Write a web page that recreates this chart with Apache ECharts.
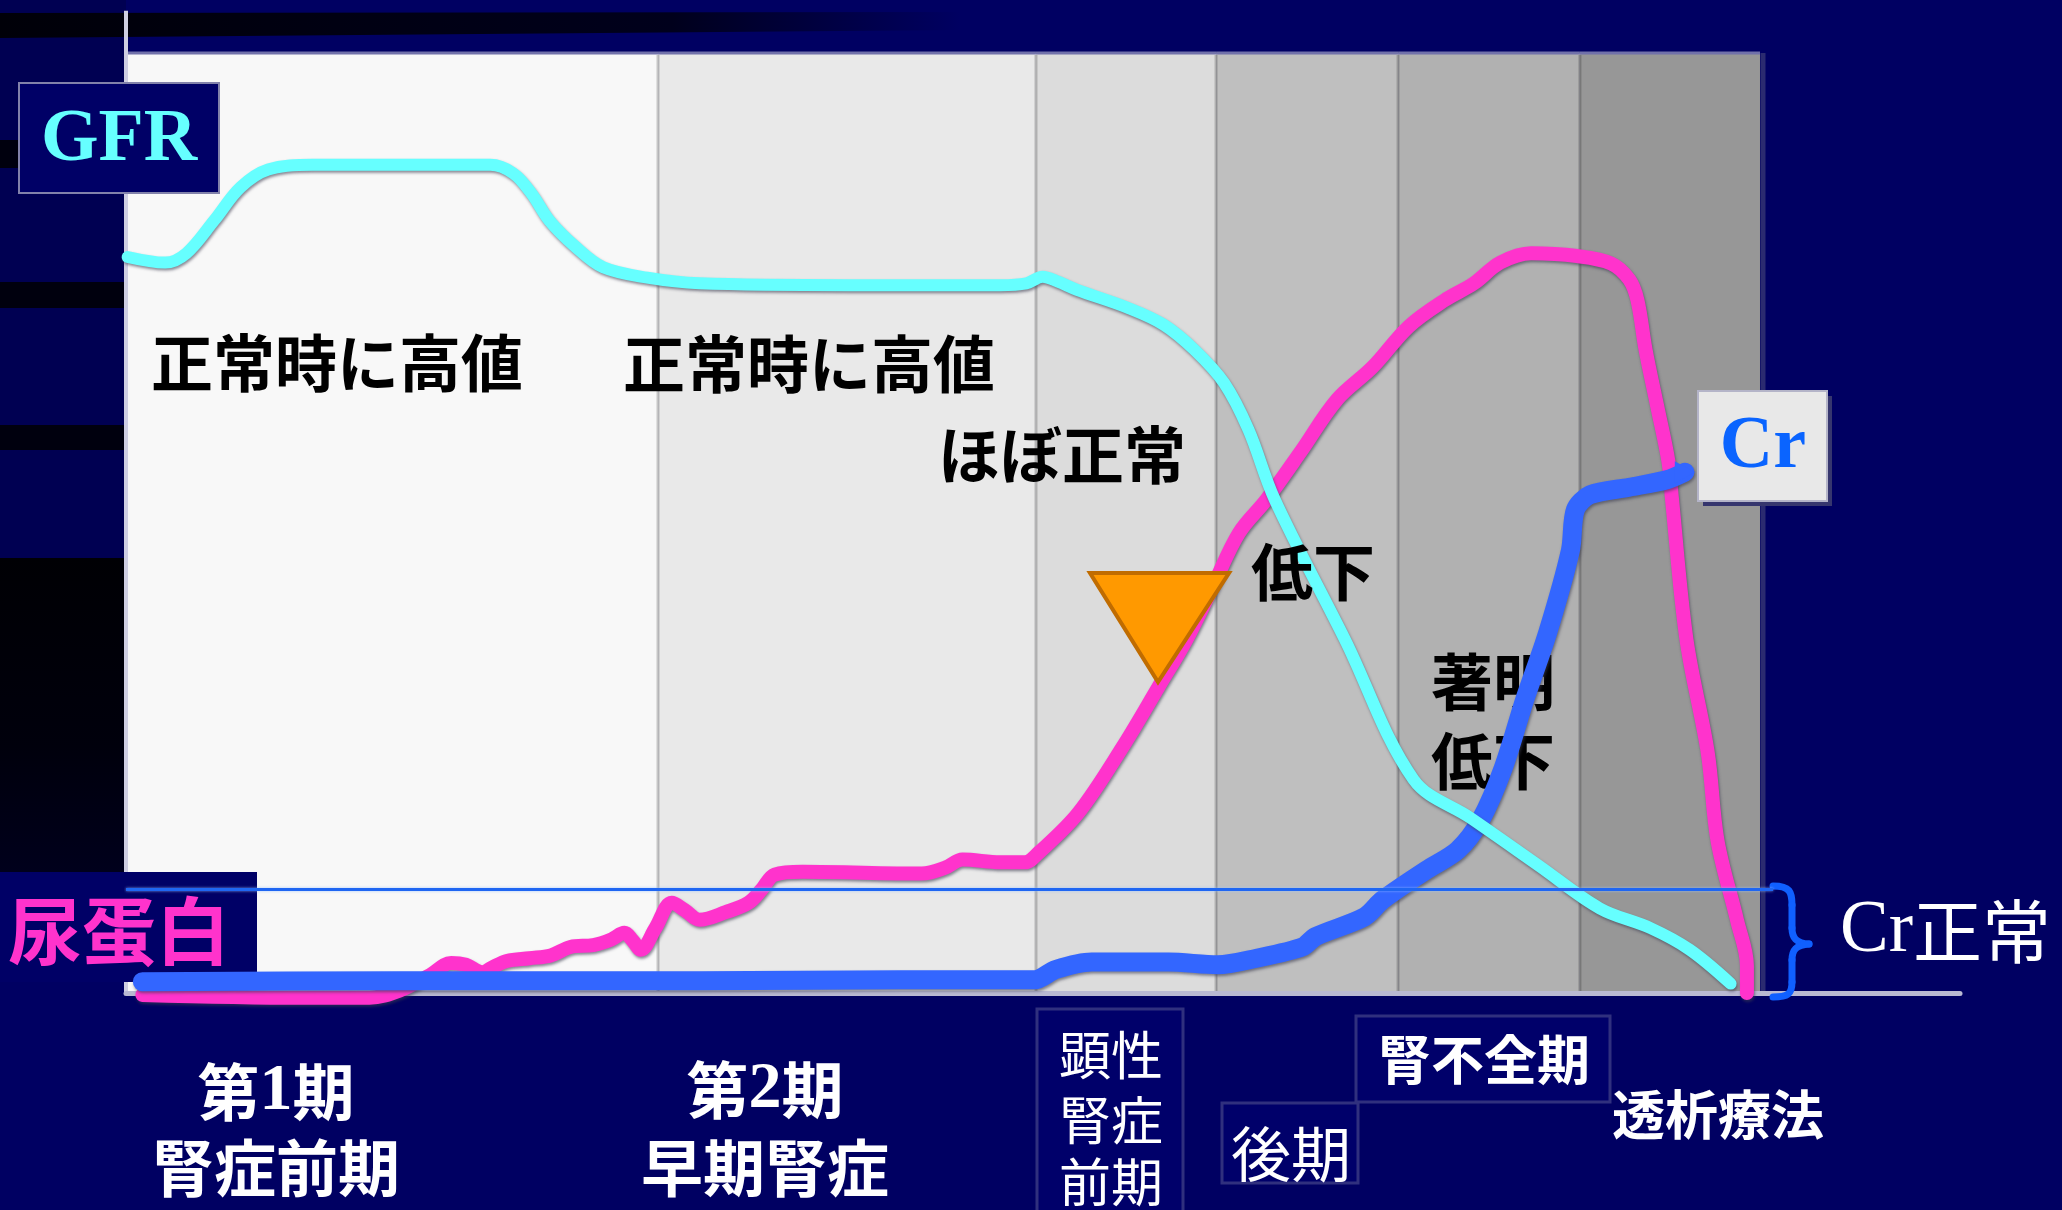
<!DOCTYPE html>
<html>
<head>
<meta charset="utf-8">
<title>糖尿病性腎症の病期と GFR・尿蛋白・Cr の推移</title>
<script src="https://cdn.jsdelivr.net/npm/echarts@6/dist/echarts.min.js"></script>
<style>
  html, body { margin: 0; padding: 0; background: #000062; }
  #chart { width: 2062px; height: 1210px; }
</style>
</head>
<body>
<div id="chart"></div>
<script>
// Progression axis: 0 = start of stage 1, 100 = end of the dialysis stage.
// Vertical axis: 0 = baseline, 100 = top of the panel (relative level).
const stageEdges = [0, 32.56, 55.69, 66.71, 77.85, 88.98, 100];
const stageShades = ['#f8f8f8', '#e9e9e9', '#dcdcdc', '#bfbfbf', '#b1b1b1', '#979797'];

// GFR
const gfr = [
  [0.1, 78.3], [2.4, 77.7], [3.7, 78.7], [5.4, 82.2], [7.0, 85.7], [8.7, 87.6],
  [11.4, 88.1], [16.9, 88.1], [22.3, 88.1], [23.7, 87.2], [24.8, 85.1], [25.9, 82.2],
  [27.5, 79.4], [29.2, 77.2], [31.9, 76.1], [35.1, 75.5], [44.3, 75.3], [53.5, 75.3],
  [55.1, 75.5], [56.1, 76.2], [57.0, 75.7], [58.2, 74.8], [61.3, 72.9], [63.5, 71.1],
  [65.4, 68.4], [67.2, 64.9], [68.7, 59.9], [70.3, 52.5], [74.6, 37.6], [78.8, 22.7],
  [82.3, 18.6], [86.5, 13.5], [90.2, 9.0], [93.3, 6.9], [95.7, 4.6], [98.2, 1.0]
];

// 尿蛋白 (urinary protein)
const urineProtein = [
  [1.0, -0.2], [10.7, -0.5], [14.9, -0.5], [16.8, 0.3], [18.6, 1.9], [19.9, 3.2],
  [20.8, 3.0], [21.8, 2.2], [22.4, 2.7], [23.3, 3.4], [24.7, 3.7], [26.0, 4.0],
  [27.2, 4.9], [28.6, 5.1], [29.7, 5.7], [30.5, 6.4], [31.0, 5.6], [31.5, 4.6],
  [32.4, 6.9], [33.4, 9.6], [34.2, 8.8], [35.1, 7.8], [36.7, 8.6], [38.1, 9.6],
  [38.9, 11.0], [39.7, 12.6], [41.4, 12.9], [48.7, 12.7], [50.1, 13.3], [51.2, 14.2],
  [53.5, 13.9], [55.0, 13.9], [55.9, 15.0], [58.3, 19.2], [61.0, 26.2], [63.2, 32.6],
  [64.9, 37.6], [66.5, 43.2], [68.1, 48.9], [69.8, 52.5], [71.9, 57.6], [74.1, 63.1],
  [76.3, 66.6], [78.5, 70.9], [80.7, 73.7], [82.5, 75.5], [84.1, 77.7], [86.0, 78.7],
  [88.8, 78.4], [90.9, 77.6], [92.0, 75.9], [92.5, 73.7], [93.0, 68.4], [93.7, 62.5],
  [94.4, 56.5], [94.6, 52.8], [95.5, 37.6], [96.8, 25.6], [97.4, 16.2], [98.6, 7.7],
  [99.2, 2.9], [99.2, 0]
];

// Cr (serum creatinine)
const creatinine = [
  [1.0, 1.2], [16.8, 1.3], [35.1, 1.3], [47.4, 1.4], [55.6, 1.4], [56.9, 2.5],
  [59.1, 3.3], [63.8, 3.3], [66.8, 3.0], [69.2, 3.7], [72.0, 4.9], [72.8, 6.0],
  [75.8, 8.1], [76.9, 9.9], [79.6, 13.1], [81.5, 15.2], [82.9, 18.4], [84.3, 24.0],
  [85.6, 31.2], [87.0, 38.3], [88.4, 47.1], [88.7, 51.4], [89.6, 53.0], [92.0, 53.8],
  [94.3, 54.6], [95.4, 55.4]
];

// Upper limit of the normal Cr range
const crNormalUpper = 11.0;
const crNormalSpan = [0, 100.8];

const JP = '"Noto Sans CJK JP", "Noto Sans", sans-serif';
const SERIF = '"Liberation Serif", "DejaVu Serif", serif';

function curveStyle(color, width) {
  return {
    color: color, width: width, cap: 'round', join: 'round',
    shadowColor: 'rgba(60,60,80,0.6)', shadowBlur: 3, shadowOffsetX: 1, shadowOffsetY: 2
  };
}

function blackLabel(text, x, y, z) {
  return {
    type: 'text', z: z, x: x, y: y,
    style: { text: text, font: 'bold 62px ' + JP, fill: '#000', align: 'center', verticalAlign: 'middle' }
  };
}

function whiteLabel(text, x, y, size, weight) {
  return {
    type: 'text', z: 10, x: x, y: y,
    style: {
      text: text, font: weight + ' ' + size + 'px ' + JP, fill: '#fff',
      align: 'center', verticalAlign: 'middle',
      shadowColor: 'rgba(0,0,0,0.6)', shadowOffsetX: 2, shadowOffsetY: 2
    }
  };
}

function stageNumberLabel(num, x, y) {
  return {
    type: 'text', z: 10, x: x, y: y,
    style: {
      text: '{a|第}{n|' + num + '}{a|期}', align: 'center', verticalAlign: 'middle',
      rich: {
        a: { font: 'bold 62px ' + JP, fill: '#fff' },
        n: { font: 'bold 66px ' + SERIF, fill: '#fff' }
      }
    }
  };
}

function stageBox(x, y, w, h) {
  return {
    type: 'rect', z: 8, shape: { x: x, y: y, width: w, height: h },
    style: { fill: '#00006a', stroke: '#30307e', lineWidth: 3 }
  };
}

const braceStyle = { fill: 'none', stroke: '#1060ff', lineWidth: 7, lineCap: 'round' };
function braceCurve(x1, y1, cx1, cy1, cx2, cy2, x2, y2) {
  return { type: 'bezierCurve', z: 7,
    shape: { x1: x1, y1: y1, cpx1: cx1, cpy1: cy1, cpx2: cx2, cpy2: cy2, x2: x2, y2: y2 },
    style: braceStyle };
}
function braceLine(x1, y1, x2, y2) {
  return { type: 'line', z: 7, shape: { x1: x1, y1: y1, x2: x2, y2: y2 }, style: braceStyle };
}

const dark = '#00000e';
const chart = echarts.init(document.getElementById('chart'));

const option = {
  backgroundColor: '#000062',
  animation: false,
  grid: { left: 126, right: 102, top: 6, bottom: 170, containLabel: false },
  xAxis: {
    type: 'value', min: 0, max: 112.24, z: 2,
    axisLine: { show: true, onZero: true, lineStyle: { color: '#b9b9d2', width: 5 } },
    axisTick: { show: false }, axisLabel: { show: false }, splitLine: { show: false }
  },
  yAxis: {
    type: 'value', min: -5, max: 105, show: false, splitLine: { show: false }
  },
  series: [
    {
      // shaded stage panels
      type: 'custom', z: 1, silent: true,
      data: stageShades.map(function (c, i) { return [stageEdges[i], stageEdges[i + 1], i]; }),
      renderItem: function (params, api) {
        const i = api.value(2);
        const p0 = api.coord([api.value(0), 100]);
        const p1 = api.coord([api.value(1), 0]);
        const children = [
          { type: 'rect', shape: { x: p0[0], y: p0[1], width: p1[0] - p0[0], height: p1[1] - p0[1] },
            style: { fill: stageShades[i] } },
          { type: 'line', shape: { x1: p0[0], y1: p0[1], x2: p1[0], y2: p0[1] },
            style: { stroke: '#7171aa', lineWidth: 3 } }
        ];
        if (i > 0) {
          children.push({ type: 'line', shape: { x1: p0[0], y1: p0[1] + 2, x2: p0[0], y2: p1[1] },
            style: { stroke: 'rgba(0,0,0,0.2)', lineWidth: 3 } });
        } else {
          const top = api.coord([0, 104.5]);
          children.push({ type: 'line', shape: { x1: p0[0], y1: top[1], x2: p0[0], y2: p1[1] },
            style: { stroke: '#cfcfe2', lineWidth: 4 } });
        }
        if (i === stageShades.length - 1) {
          children.push({ type: 'line', shape: { x1: p1[0] + 3, y1: p0[1], x2: p1[0] + 3, y2: p1[1] },
            style: { stroke: '#2b2b70', lineWidth: 5 } });
        }
        return { type: 'group', children: children };
      }
    },
    {
      name: '尿蛋白', type: 'line', z: 3, data: urineProtein, smooth: 0.35,
      symbol: 'none', lineStyle: curveStyle('#ff33cc', 14)
    },
    {
      name: 'Cr', type: 'line', z: 4, smooth: 0.3, symbol: 'none',
      data: creatinine.map(function (p, i) {
        if (i === creatinine.length - 1) {
          return { value: p, symbol: 'triangle', symbolSize: [22, 20], symbolRotate: -90,
                   itemStyle: { color: '#3366ff' } };
        }
        return p;
      }),
      lineStyle: curveStyle('#3366ff', 19)
    },
    {
      name: 'GFR', type: 'line', z: 5, data: gfr, smooth: 0.35,
      symbol: 'none', lineStyle: curveStyle('#66ffff', 12)
    },
    {
      name: 'Cr正常上限', type: 'line', z: 7, symbol: 'none',
      data: crNormalSpan.map(function (x) { return [x, crNormalUpper]; }),
      lineStyle: { color: '#1f66f2', width: 3, shadowColor: 'rgba(150,190,255,0.8)', shadowBlur: 3 }
    }
  ],
  graphic: [
    // slide backdrop: darker left strip with black bands
    { type: 'rect', z: 0, shape: { x: 0, y: 0, width: 126, height: 872 }, style: { fill: '#000052' } },
    { type: 'polygon', z: 0, shape: { points: [[0, 13], [960, 12], [960, 30], [0, 38]] },
      style: { fill: { type: 'linear', x: 0, y: 0, x2: 1, y2: 0, colorStops: [
        { offset: 0, color: '#000008' }, { offset: 0.7, color: '#00001c' }, { offset: 1, color: '#000062' }] } } },
    { type: 'rect', z: 0, shape: { x: 0, y: 140, width: 126, height: 28 }, style: { fill: dark } },
    { type: 'rect', z: 0, shape: { x: 0, y: 282, width: 126, height: 26 }, style: { fill: dark } },
    { type: 'rect', z: 0, shape: { x: 0, y: 425, width: 126, height: 25 }, style: { fill: dark } },
    { type: 'rect', z: 0, shape: { x: 0, y: 558, width: 126, height: 314 },
      style: { fill: { type: 'linear', x: 0, y: 0, x2: 0, y2: 1, colorStops: [
        { offset: 0, color: '#000004' }, { offset: 0.6, color: '#00000c' }, { offset: 1, color: '#00001c' }] } } },

    // series name boxes
    { type: 'rect', z: 8, shape: { x: 19, y: 83, width: 200, height: 110 },
      style: { fill: '#000066', stroke: '#8282aa', lineWidth: 2 } },
    { type: 'text', z: 9, x: 119, y: 141,
      style: { text: 'GFR', font: 'bold 74px ' + SERIF, fill: '#66ffff', align: 'center', verticalAlign: 'middle' } },

    { type: 'rect', z: 2, shape: { x: 0, y: 872, width: 257, height: 110 }, style: { fill: '#000066' } },
    { type: 'text', z: 2, x: 119, y: 931,
      style: { text: '尿蛋白', font: 'bold 74px ' + JP, fill: '#ff33cc', align: 'center', verticalAlign: 'middle' } },

    { type: 'rect', z: 8, shape: { x: 1703, y: 396, width: 129, height: 110 }, style: { fill: '#36366e' } },
    { type: 'rect', z: 8, shape: { x: 1698, y: 391, width: 129, height: 110 },
      style: { fill: '#e8e8e8', stroke: '#b4b4c8', lineWidth: 2 } },
    { type: 'text', z: 9, x: 1763, y: 448,
      style: { text: 'Cr', font: 'bold 74px ' + SERIF, fill: '#0a64ff', align: 'center', verticalAlign: 'middle' } },

    // Cr normal range brace and caption
    braceCurve(1773, 886, 1790, 886, 1792, 892, 1792, 905),
    braceLine(1792, 905, 1792, 928),
    braceCurve(1792, 928, 1792, 938, 1796, 943, 1809, 944),
    braceCurve(1809, 944, 1796, 945, 1792, 950, 1792, 960),
    braceLine(1792, 960, 1792, 982),
    braceCurve(1792, 982, 1792, 994, 1788, 997, 1773, 997),
    { type: 'text', z: 9, x: 1840, y: 932,
      style: { text: '{c|Cr}{j|正常}', align: 'left', verticalAlign: 'middle',
        rich: { c: { font: '73px ' + SERIF, fill: '#fff' }, j: { font: '69px ' + JP, fill: '#fff' } } } },

    // marker where GFR starts to fall
    { type: 'polygon', z: 6, shape: { points: [[1090, 573], [1229, 573], [1158, 682]] },
      style: { fill: '#ff9900', stroke: '#c06c00', lineWidth: 4 } },

    // annotations in the panel
    blackLabel('正常時に高値', 337, 363, 6),
    blackLabel('正常時に高値', 809, 364, 6),
    blackLabel('ほぼ正常', 1062, 455, 6),
    blackLabel('低下', 1313, 572, 6),
    blackLabel('著明', 1493, 682, 3.5),
    blackLabel('低下', 1493, 761, 3.5),

    // stage names under the axis
    stageNumberLabel(1, 276, 1092),
    whiteLabel('腎症前期', 276, 1168, 62, 'bold'),
    stageNumberLabel(2, 765, 1090),
    whiteLabel('早期腎症', 765, 1168, 62, 'bold'),

    stageBox(1037, 1009, 146, 230),
    whiteLabel('顕性', 1111, 1055, 52, 'normal'),
    whiteLabel('腎症', 1111, 1120, 52, 'normal'),
    whiteLabel('前期', 1111, 1182, 52, 'normal'),

    stageBox(1222, 1103, 136, 80),
    whiteLabel('後期', 1291, 1154, 60, 'normal'),

    stageBox(1356, 1016, 254, 86),
    whiteLabel('腎不全期', 1484, 1060, 53, 'bold'),

    whiteLabel('透析療法', 1718, 1115, 53, 'bold')
  ]
};

chart.setOption(option);
</script>
</body>
</html>
